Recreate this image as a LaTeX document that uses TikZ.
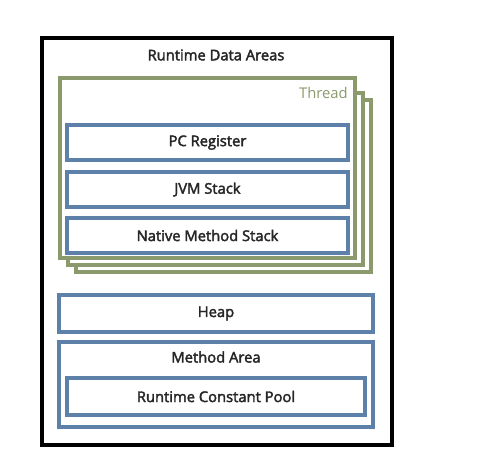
\documentclass[tikz,border=0pt]{standalone}
\usepackage{fontspec}
\setmainfont{Open Sans}
\newfontfamily\medfont{Open Sans}[FakeBold=2.5]
\definecolor{threadgreen}{HTML}{8A9A6C}
\definecolor{areablue}{HTML}{5E81A9}
\tikzset{
  areabox/.style={draw=areablue, line width=2.2pt, fill=white},
  threadbox/.style={draw=threadgreen, line width=2.2pt, fill=white},
  lbl/.style={font=\medfont\fontsize{8.4}{10}\selectfont, text=black!85, inner sep=0pt}
}
\begin{document}
\begin{tikzpicture}[x=0.02cm,y=-0.02cm]
\useasboundingbox (0,0) rectangle (493,465);
\draw[line width=2.2pt] (42,38) rectangle (392,445); % outer frame
\node[lbl] (rda) at (216,55) {Runtime Data Areas};
\foreach \dx/\dy/\top in {16/14/100, 8/7/93, 0/0/78} % edit here for the thread stack
\draw[threadbox] (60+\dx,\top) rectangle (355+\dx,258+\dy);
\node[lbl, font=\fontsize{8.4}{10}\selectfont, anchor=east, text=threadgreen] (thread) at (348,93) {Thread};
\foreach \t/\b/\name in {125/160/PC Register, 172/207/JVM Stack, 218/253/Native Method Stack} % edit here for the per-thread areas
\draw[areabox] (67,\t) rectangle (348,\b) node[lbl, midway] {\name};
\draw[areabox] (59,295) rectangle (373,332) node[lbl, midway] (heap) {Heap};
\draw[areabox] (59,342) rectangle (373,427);
\node[lbl] (method) at (216,357) {Method Area};
\draw[areabox] (67,378) rectangle (365,415) node[lbl, midway] (pool) {Runtime Constant Pool};
\end{tikzpicture}
\end{document}
